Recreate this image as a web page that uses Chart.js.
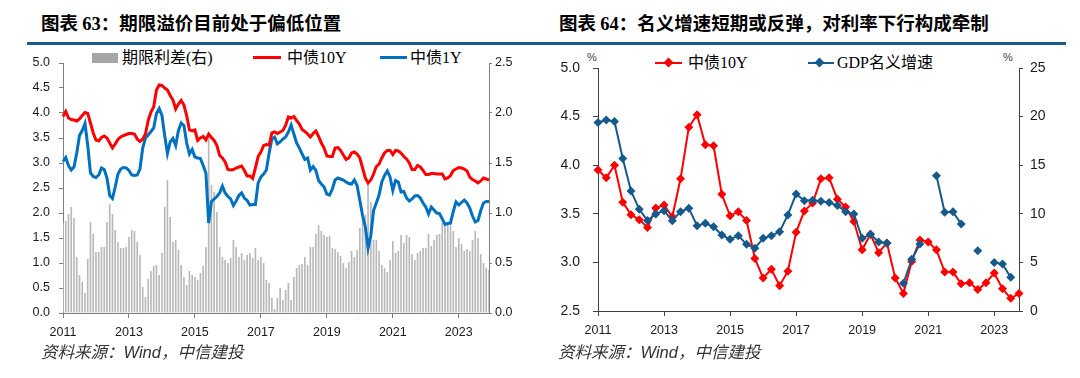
<!DOCTYPE html>
<html><head><meta charset="utf-8">
<script src="https://cdn.jsdelivr.net/npm/chart.js@4.4.0/dist/chart.umd.min.js"></script>
<style>
body{margin:0;background:#fff;width:1080px;height:378px;position:relative;overflow:hidden;font-family:"Noto Sans CJK SC",sans-serif;color:#000;}
.abs{position:absolute;white-space:nowrap;}
.title{top:13px;font-size:18.5px;line-height:19px;font-weight:bold;}
.title .n{font-family:"Liberation Serif",serif;font-weight:bold;}
.rule{position:absolute;top:42px;height:3px;background:#1b5a8e;}
.src{top:342px;font-size:16.5px;line-height:18px;font-style:italic;color:#333;}
.src .w{font-family:"Liberation Sans",sans-serif;font-style:italic;}
.leg{font-family:"Liberation Serif","Noto Sans CJK SC",serif;font-size:16px;line-height:18px;}
.sw{position:absolute;}
.dia{position:absolute;width:7px;height:7px;transform:rotate(45deg);}
.pct{font-family:"Liberation Sans",sans-serif;font-size:11px;line-height:12px;color:#444;}
canvas{position:absolute;}
</style></head>
<body>
<div class="abs title" style="left:41px;">图表 <span class="n">63</span>：期限溢价目前处于偏低位置</div>
<div class="abs title" style="left:559px;">图表 <span class="n">64</span>：名义增速短期或反弹，对利率下行构成牵制</div>
<div class="rule" style="left:27px;width:1039px;"></div>

<!-- legend chart 1 -->
<div class="sw" style="left:92px;top:53px;width:26px;height:10px;background:#a6a6a6;"></div>
<div class="abs leg" style="left:122px;top:49px;">期限利差(右)</div>
<div class="sw" style="left:253px;top:56px;width:28px;height:3px;background:#ff0000;"></div>
<div class="abs leg" style="left:287px;top:49px;">中债10Y</div>
<div class="sw" style="left:380px;top:56px;width:27px;height:3px;background:#0070c0;"></div>
<div class="abs leg" style="left:410px;top:49px;">中债1Y</div>

<!-- legend chart 2 -->
<div class="sw" style="left:655px;top:62px;width:27px;height:2px;background:#ff0000;"></div>
<div class="dia" style="left:665px;top:59px;background:#ff0000;"></div>
<div class="abs leg" style="left:688px;top:54px;">中债10Y</div>
<div class="sw" style="left:808px;top:62px;width:26px;height:2px;background:#165a8c;"></div>
<div class="dia" style="left:816px;top:59px;background:#165a8c;"></div>
<div class="abs leg" style="left:837px;top:54px;">GDP名义增速</div>
<div class="abs pct" style="left:587px;top:51px;">%</div>
<div class="abs pct" style="left:1003px;top:51px;">%</div>

<canvas id="c1" width="540" height="300" style="left:0;top:45px;"></canvas>
<canvas id="c2" width="540" height="300" style="left:540px;top:45px;"></canvas>

<div class="abs src" style="left:41px;">资料来源：<span class="w">Wind</span>，中信建投</div>
<div class="abs src" style="left:558px;">资料来源：<span class="w">Wind</span>，中信建投</div>

<script>
// ---------- Chart 63 : monthly, Jan 2011 – Dec 2023 ----------
const years = [2011,2012,2013,2014,2015,2016,2017,2018,2019,2020,2021,2022,2023];
const monthLabels = [];
years.forEach(y => { for (let m = 1; m <= 12; m++) monthLabels.push(y + '-' + String(m).padStart(2,'0')); });

const cgb10y = [
3.93,4.03,3.90,3.87,3.86,3.84,3.88,3.95,4.01,3.99,3.80,3.60,
3.46,3.44,3.51,3.54,3.50,3.40,3.30,3.38,3.47,3.52,3.55,3.57,
3.59,3.59,3.58,3.48,3.43,3.48,3.58,3.85,4.02,4.12,4.46,4.56,
4.55,4.50,4.46,4.35,4.26,4.08,4.18,4.25,4.16,3.95,3.66,3.64,
3.66,3.45,3.50,3.53,3.46,3.58,3.51,3.45,3.35,3.15,3.10,3.02,
2.87,2.86,2.87,2.90,2.92,2.94,2.85,2.74,2.74,2.69,2.90,3.13,
3.22,3.35,3.37,3.36,3.60,3.62,3.59,3.62,3.65,3.75,3.92,3.90,
3.93,3.85,3.78,3.67,3.63,3.58,3.52,3.59,3.64,3.53,3.40,3.30,
3.14,3.13,3.13,3.30,3.31,3.25,3.16,3.07,3.10,3.20,3.22,3.18,
3.10,2.90,2.70,2.60,2.66,2.78,2.93,2.98,3.10,3.20,3.25,3.25,
3.17,3.25,3.24,3.20,3.13,3.08,3.00,2.87,2.87,2.95,2.92,2.85,
2.77,2.77,2.79,2.79,2.78,2.78,2.78,2.68,2.70,2.75,2.85,2.88,
2.91,2.90,2.88,2.84,2.72,2.67,2.64,2.60,2.64,2.70,2.68,2.66];

const cgb1y = [
3.03,3.11,2.95,2.86,2.92,3.20,3.55,3.65,3.79,3.35,2.80,2.73,
2.71,2.76,2.90,2.87,2.70,2.35,2.29,2.52,2.78,2.88,2.91,2.90,
2.85,2.76,2.75,2.76,2.88,3.30,3.50,3.56,3.63,3.70,3.99,4.09,
3.95,3.55,3.19,3.42,3.49,3.35,3.65,3.80,3.75,3.40,3.18,3.27,
3.12,3.10,3.09,2.95,2.80,1.80,2.23,2.28,2.33,2.40,2.54,2.40,
2.33,2.28,2.15,2.24,2.35,2.40,2.30,2.25,2.16,2.17,2.17,2.60,
2.72,2.78,2.86,3.20,3.48,3.52,3.38,3.42,3.48,3.52,3.62,3.76,
3.58,3.40,3.30,3.18,3.07,3.10,2.86,2.93,2.85,2.65,2.58,2.52,
2.38,2.36,2.48,2.66,2.70,2.68,2.66,2.62,2.59,2.58,2.66,2.55,
2.25,1.95,1.72,1.30,1.55,2.05,2.20,2.36,2.62,2.75,2.84,2.72,
2.45,2.65,2.62,2.42,2.43,2.30,2.24,2.28,2.34,2.35,2.30,2.20,
2.12,1.98,2.12,2.06,2.00,1.99,1.88,1.77,1.79,1.80,2.03,2.22,
2.16,2.21,2.26,2.20,2.10,1.94,1.82,1.85,2.05,2.20,2.23,2.23];

const termSpread = [
0.90,0.92,0.99,1.06,0.95,0.56,0.38,0.31,0.20,0.54,0.91,0.79,
0.61,0.61,0.66,0.66,0.91,1.09,0.99,0.83,0.71,0.65,0.65,0.66,
0.76,0.83,0.82,0.71,0.58,0.26,0.16,0.34,0.42,0.47,0.48,0.38,
0.60,1.06,1.33,0.96,0.71,0.73,0.63,0.48,0.36,0.28,0.42,0.38,
0.36,0.33,0.40,0.47,0.66,1.78,1.28,1.21,1.01,0.66,0.56,0.53,
0.50,0.55,0.73,0.66,0.56,0.60,0.53,0.58,0.60,0.55,0.65,0.53,
0.56,0.50,0.33,0.30,0.15,0.04,0.15,0.25,0.13,0.23,0.30,0.13,
0.36,0.45,0.48,0.49,0.56,0.48,0.66,0.66,0.79,0.88,0.82,0.78,
0.76,0.77,0.65,0.64,0.61,0.57,0.50,0.45,0.51,0.62,0.56,0.63,
0.85,0.95,0.98,1.30,1.11,0.73,0.73,0.62,0.48,0.45,0.41,0.53,
0.72,0.60,0.62,0.78,0.70,0.78,0.76,0.59,0.53,0.60,0.62,0.65,
0.65,0.79,0.67,0.73,0.78,0.79,0.90,0.91,0.91,0.95,0.82,0.66,
0.75,0.69,0.62,0.64,0.62,0.73,0.82,0.75,0.59,0.50,0.45,0.43];

// ---------- Chart 64 : quarterly, 2011Q1 – 2023Q4 ----------
const quarterLabels = [];
years.forEach(y => { for (let q = 1; q <= 4; q++) quarterLabels.push(y + 'Q' + q); });

const cgb10yQ = [
3.95,3.87,4.00,3.62, 3.49,3.44,3.36,3.56, 3.59,3.47,3.86,4.39, 4.52,4.21,4.20,3.70,
3.48,3.52,3.43,3.04, 2.84,2.93,2.76,2.91, 3.31,3.53,3.61,3.86, 3.87,3.65,3.57,3.42,
3.13,3.29,3.10,3.20, 2.84,2.68,3.01,3.23, 3.21,3.13,2.90,2.90, 2.78,2.79,2.72,2.79,
2.89,2.73,2.63,2.68];

const gdpNominal = [
19.4,19.65,19.5,15.7, 12.35,10.46,9.3,9.98, 10.32,9.29,10.22,10.56, 8.78,9.02,8.67,7.82,
7.37,7.75,6.86,6.45, 7.48,7.75,8.16,9.88, 12.04,11.35,11.4,11.3, 11.15,10.85,10.2,9.98,
7.48,7.89,7.1,6.98, null,2.85,5.32,6.9, null,13.92,10.15,10.2, 8.95,null,6.2,null,
5.0,4.83,3.46,null];

Chart.defaults.font.family = '"Liberation Sans", Arial, sans-serif';
Chart.defaults.color = '#1a1a1a';

const tickColor = (every, col) => (ctx) => (ctx.index % every === 0 ? col : 'rgba(0,0,0,0)');

new Chart(document.getElementById('c1'), {
  type: 'bar',
  data: {
    labels: monthLabels,
    datasets: [
      { type: 'line', label: '中债10Y', data: cgb10y, yAxisID: 'y', borderColor: '#ff0000', borderWidth: 3, pointRadius: 0, tension: 0, order: 1 },
      { type: 'line', label: '中债1Y', data: cgb1y, yAxisID: 'y', borderColor: '#0070c0', borderWidth: 3, pointRadius: 0, tension: 0, order: 2 },
      { type: 'bar', label: '期限利差(右)', data: termSpread, yAxisID: 'y1', backgroundColor: '#b8b8b8', barPercentage: 0.6, categoryPercentage: 1, order: 3 }
    ]
  },
  options: {
    responsive: false, animation: false, devicePixelRatio: 1,
    layout: { padding: { top: 18, left: 0, right: 0, bottom: 0 } },
    plugins: { legend: { display: false }, tooltip: { enabled: false } },
    scales: {
      x: {
        offset: false,
        grid: { offset: false, drawOnChartArea: false, tickLength: 5, color: tickColor(24, '#808080') },
        border: { color: '#808080' },
        ticks: { autoSkip: false, maxRotation: 0, padding: 7, font: { size: 12.5 },
          callback: (v, i) => (i % 24 === 0 ? monthLabels[i].slice(0, 4) : '') },
        afterFit: s => { s.height = 32; }
      },
      y: {
        position: 'left', min: 0, max: 5,
        ticks: { stepSize: 0.5, padding: 9, font: { size: 12.5 }, callback: v => v.toFixed(1) },
        grid: { drawOnChartArea: false, tickLength: 4, color: '#808080' },
        border: { color: '#808080' },
        afterFit: s => { s.width = 63; }
      },
      y1: {
        position: 'right', min: 0, max: 2.5,
        ticks: { stepSize: 0.5, padding: 3, font: { size: 12.5 }, callback: v => v.toFixed(1) },
        grid: { drawOnChartArea: false, tickLength: 3, color: '#808080' },
        border: { color: '#808080' },
        afterFit: s => { s.width = 51; }
      }
    }
  }
});

new Chart(document.getElementById('c2'), {
  type: 'line',
  data: {
    labels: quarterLabels,
    datasets: [
      { label: 'GDP名义增速', data: gdpNominal, yAxisID: 'y1', borderColor: '#165a8c', backgroundColor: '#165a8c', borderWidth: 2,
        pointStyle: 'rectRot', pointRadius: 4.5, pointBorderWidth: 0, spanGaps: false, tension: 0, clip: false, order: 0 },
      { label: '中债10Y', data: cgb10yQ, yAxisID: 'y', borderColor: '#ff0000', backgroundColor: '#ff0000', borderWidth: 2,
        pointStyle: 'rectRot', pointRadius: 4.5, pointBorderWidth: 0, tension: 0, clip: false, order: 1 }
    ]
  },
  options: {
    responsive: false, animation: false, devicePixelRatio: 1,
    layout: { padding: { top: 23, left: 0, right: 0, bottom: 0 } },
    plugins: { legend: { display: false }, tooltip: { enabled: false } },
    scales: {
      x: {
        offset: false,
        grid: { offset: false, drawOnChartArea: false, tickLength: 5, color: tickColor(8, '#404040') },
        border: { color: '#404040' },
        ticks: { autoSkip: false, maxRotation: 0, padding: 7, font: { size: 12.5 },
          callback: (v, i) => (i % 8 === 0 ? quarterLabels[i].slice(0, 4) : '') },
        afterFit: s => { s.height = 34; }
      },
      y: {
        position: 'left', min: 2.5, max: 5,
        ticks: { stepSize: 0.5, padding: 13, font: { size: 14 }, callback: v => v.toFixed(1) },
        grid: { drawOnChartArea: false, tickLength: 5, color: '#404040' },
        border: { color: '#404040' },
        afterFit: s => { s.width = 58; }
      },
      y1: {
        position: 'right', min: 0, max: 25,
        ticks: { stepSize: 5, padding: 7, font: { size: 14 } },
        grid: { drawOnChartArea: false, tickLength: 4, color: '#404040' },
        border: { color: '#404040' },
        afterFit: s => { s.width = 61; }
      }
    }
  }
});
</script>
</body></html>
